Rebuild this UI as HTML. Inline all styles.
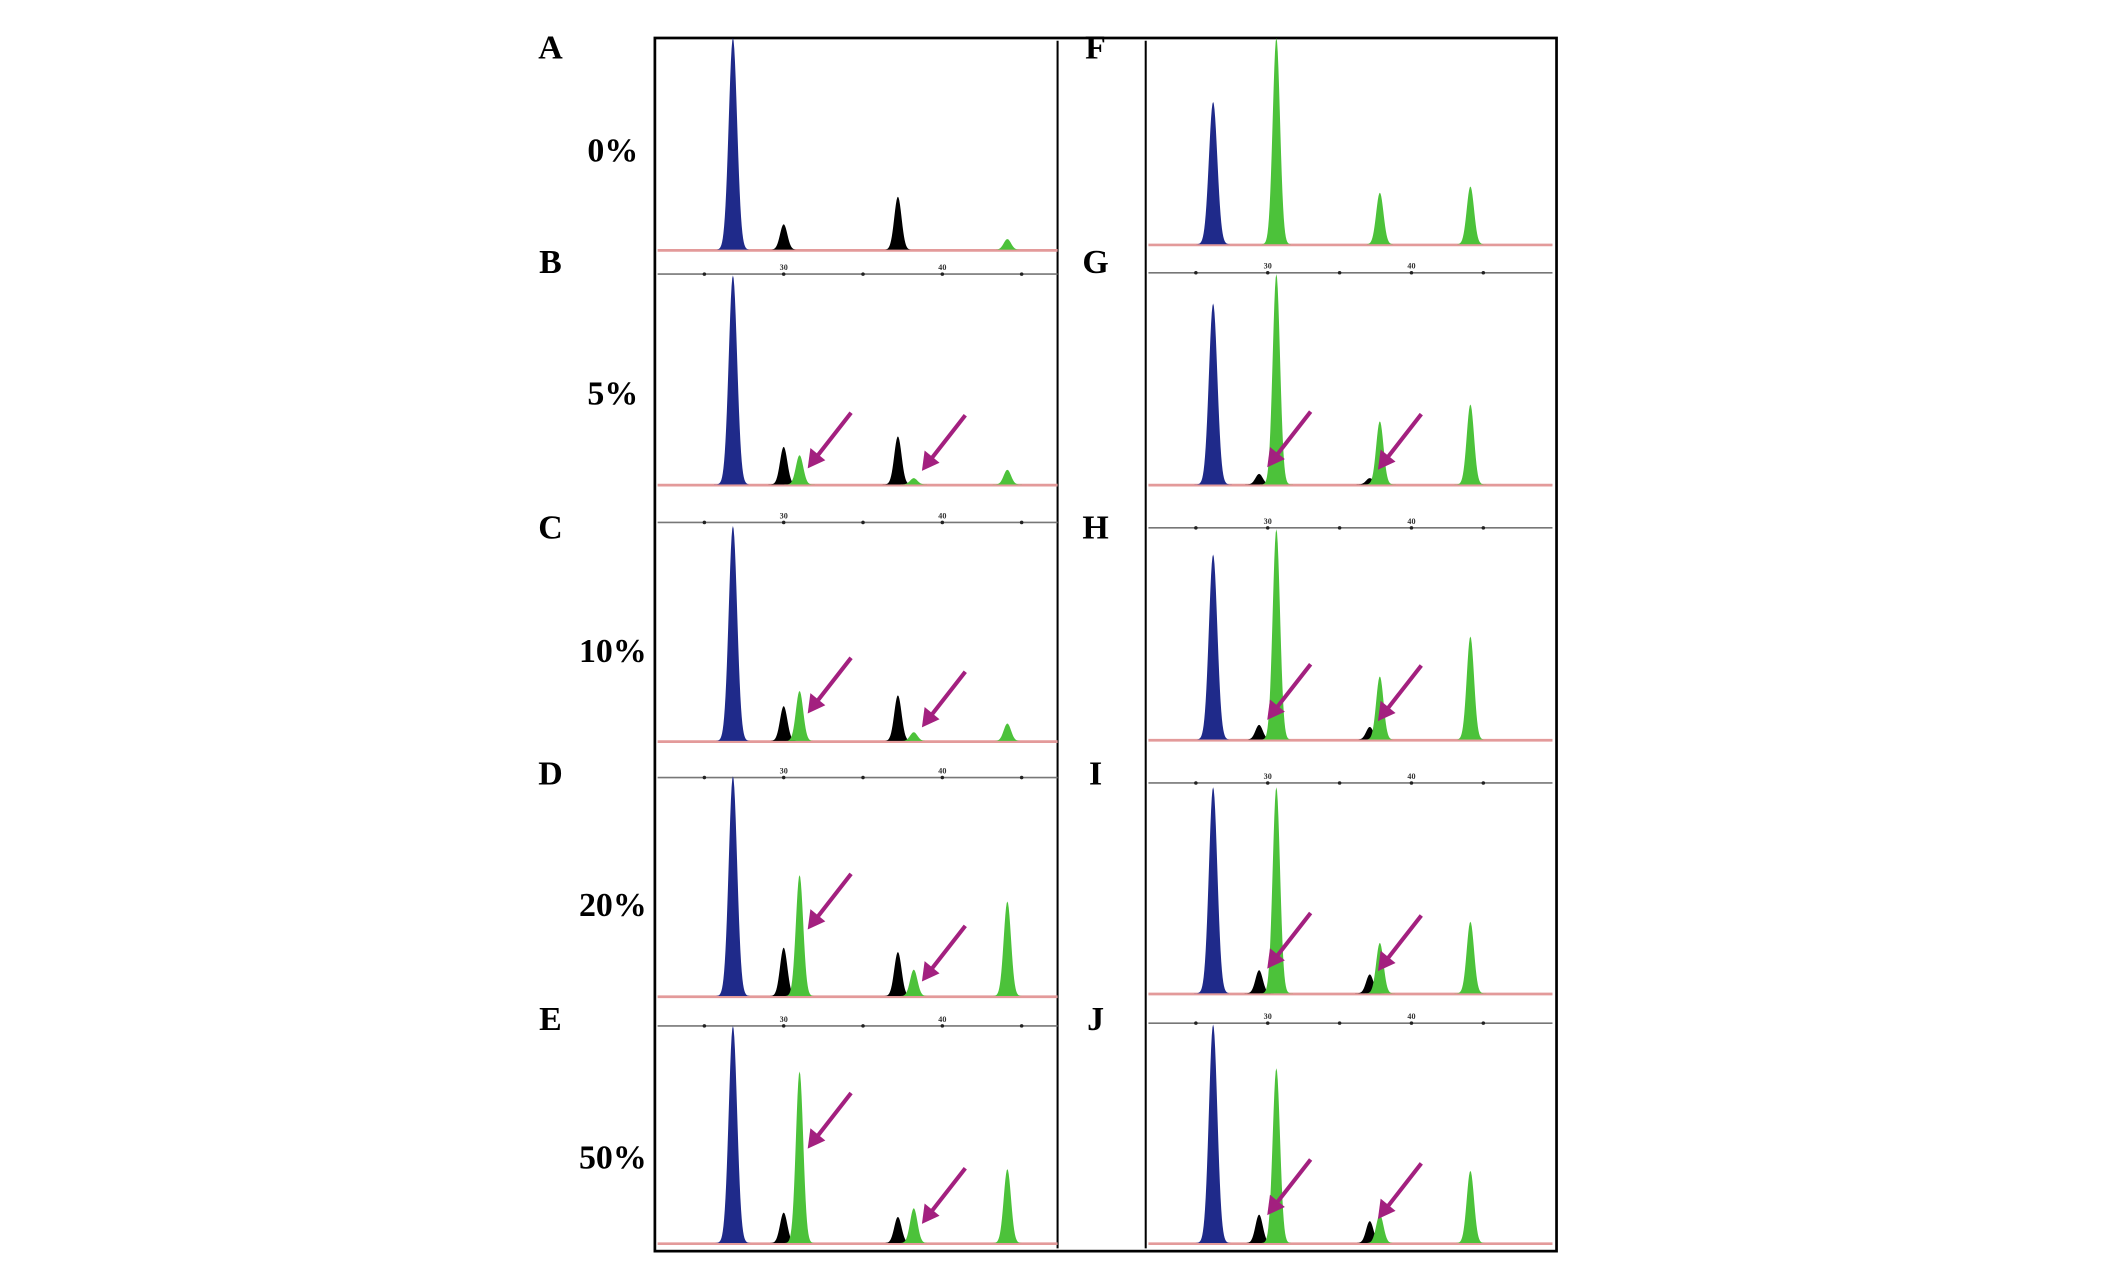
<!DOCTYPE html>
<html><head><meta charset="utf-8">
<style>
html,body{margin:0;padding:0;background:#fff;}
svg{display:block;}
text{font-family:"Liberation Serif",serif;font-weight:bold;}
</style></head>
<body>
<svg id="fig" width="2126" height="1262" viewBox="0 0 1568 930" preserveAspectRatio="none" xmlns="http://www.w3.org/2000/svg">
<g id="frame">
<rect x="483" y="28" width="665" height="894" fill="none" stroke="#000" stroke-width="2"/>
<line x1="780" y1="30" x2="780" y2="920" stroke="#000" stroke-width="1.5"/>
<line x1="845" y1="30" x2="845" y2="920" stroke="#000" stroke-width="1.5"/>
</g>
<g id="labels"></g>
<g id="panels"></g>
</svg>
<script>
// Panel letters and mutant percentages
const panelNames = ["A","B","C","D","E","F","G","H","I","J"];
const percentLabels = ["0%","5%","10%","20%","50%"];
// Peak sizes (bp) per panel
const sizesLeftA = [26.8, 30.0, 37.2, 44.1];
const sizesLeft = [26.8, 30.0, 31.0, 37.2, 38.2, 44.1];
const sizesRightF = [26.2, 30.6, 37.8, 44.1];
const sizesRight = [26.2, 29.4, 30.6, 37.1, 37.8, 44.1];
const colorsA = ["blue","black","black","green"];
const colorsF = ["blue","green","green","green"];
const colorsMix = ["blue","black","green","black","green","green"];
// Relative intensities (fraction of panel height)
const heightsA = [1.0, 0.12, 0.25, 0.05];
const heightsB = [1.0, 0.18, 0.14, 0.23, 0.03, 0.07];
const heightsC = [0.99, 0.16, 0.23, 0.21, 0.04, 0.08];
const heightsD = [1.0, 0.22, 0.55, 0.20, 0.12, 0.43];
const heightsE = [1.0, 0.14, 0.79, 0.12, 0.16, 0.34];
const heightsF = [0.69, 1.0, 0.25, 0.28];
const heightsG = [0.86, 0.05, 1.0, 0.03, 0.30, 0.38];
const heightsH = [0.88, 0.07, 1.0, 0.06, 0.30, 0.49];
const heightsI = [0.98, 0.11, 0.98, 0.09, 0.24, 0.34];
const heightsJ = [1.0, 0.13, 0.80, 0.10, 0.13, 0.33];
const tickLabels = ["30","40"];

const NS="http://www.w3.org/2000/svg";
const COL={blue:"#1f2a8a",black:"#000",green:"#4cc23a"};
const panels=[
 {n:0,side:"L",top:28,base:184,axis:null,s:sizesLeftA,c:colorsA,h:heightsA,arrows:[]},
 {n:1,side:"L",top:203,base:357,axis:202,s:sizesLeft,c:colorsMix,h:heightsB,arrows:[2,4]},
 {n:2,side:"L",top:386,base:546,axis:385,s:sizesLeft,c:colorsMix,h:heightsC,arrows:[2,4]},
 {n:3,side:"L",top:572,base:734,axis:573,s:sizesLeft,c:colorsMix,h:heightsD,arrows:[2,4]},
 {n:4,side:"L",top:756,base:916,axis:756,s:sizesLeft,c:colorsMix,h:heightsE,arrows:[2,4]},
 {n:5,side:"R",top:28,base:180,axis:null,s:sizesRightF,c:colorsF,h:heightsF,arrows:[]},
 {n:6,side:"R",top:202,base:357,axis:201,s:sizesRight,c:colorsMix,h:heightsG,arrows:[1,3]},
 {n:7,side:"R",top:390,base:545,axis:389,s:sizesRight,c:colorsMix,h:heightsH,arrows:[1,3]},
 {n:8,side:"R",top:577,base:732,axis:577,s:sizesRight,c:colorsMix,h:heightsI,arrows:[1,3]},
 {n:9,side:"R",top:755,base:916,axis:754,s:sizesRight,c:colorsMix,h:heightsJ,arrows:[1,3]}
];
function xScale(side,bp){return side==="L"?578+(bp-30)*11.7:935+(bp-30)*10.6;}
function yScale(p,v){return p.base-v*(p.base-p.top);}
const labelG=document.getElementById("labels");
const panelG=document.getElementById("panels");
const letterY=[35,193,389,570,751];
function mk(tag,attrs,parent){const e=document.createElementNS(NS,tag);for(const k in attrs)e.setAttribute(k,attrs[k]);parent.appendChild(e);return e;}
panelNames.forEach((nm,i)=>{
 const t=mk("text",{x:i<5?406:808,y:letterY[i%5]+8,"font-size":"25","text-anchor":"middle"},labelG);
 t.textContent=nm;
 
 
});
const pctY=[111,290,480,667,853];
percentLabels.forEach((p,i)=>{
 const t=mk("text",{x:452,y:pctY[i]+8,"font-size":"25","text-anchor":"middle"},labelG);
 t.textContent=p;
 
 
});
panels.forEach(p=>{
 const g=mk("g",{},panelG);
 
 
 const x0=p.side==="L"?485:847, x1=p.side==="L"?780:1145;
 if(p.axis!==null){
  const ax=mk("line",{x1:x0,x2:x1,y1:p.axis,y2:p.axis,stroke:"#777","stroke-width":"1.2"},g);
  
  
  for(let bp=20;bp<=50;bp+=5){const x=xScale(p.side,bp);if(x>x0&&x<x1)mk("circle",{cx:x,cy:p.axis,r:1.3,fill:"#222"},g);}
  tickLabels.forEach(tl=>{const t=mk("text",{x:xScale(p.side,+tl),y:p.axis-3,"font-size":"6","text-anchor":"middle",fill:"#333"},g);t.textContent=tl;
   });
 }
 const bl=mk("line",{x1:x0,x2:x1,y1:p.base+0.5,y2:p.base+0.5,stroke:"#e39a9a","stroke-width":"2"},g);
 
 
 p.s.forEach((bp,i)=>{
  const cx=xScale(p.side,bp), top=yScale(p,p.h[i]), H=p.base-top;
  const sig=p.c[i]==="blue"?3.1:2.7;
  let d="M"+(cx-14)+","+p.base;
  for(let dx=-14;dx<=14;dx+=0.5){d+=" L"+(cx+dx).toFixed(2)+","+(p.base-H*Math.exp(-dx*dx/(2*sig*sig))).toFixed(2);}
  d+=" Z";
  const pk=mk("path",{d:d,fill:COL[p.c[i]]},g);
  
  
 });
 p.arrows.forEach(idx=>{
  const cx=xScale(p.side,p.s[idx]), H=p.base-yScale(p,p.h[idx]);
  let tx,ty;
  if(p.side==="L"){tx=cx+6;ty=Math.min(p.base-H*0.55,p.base-10);}
  else{tx=cx+6;ty=p.base-8-H*0.6;}
  const ag=mk("g",{},g);
  
  
  mk("line",{x1:tx+32,y1:ty-41,x2:tx+7,y2:ty-9,stroke:"#a3207f","stroke-width":"3"},ag);
  mk("polygon",{points:`${tx},${ty} ${tx+2},${ty-15} ${tx+13},${ty-6}`,fill:"#a3207f"},ag);
 });
});
</script>
</body></html>
